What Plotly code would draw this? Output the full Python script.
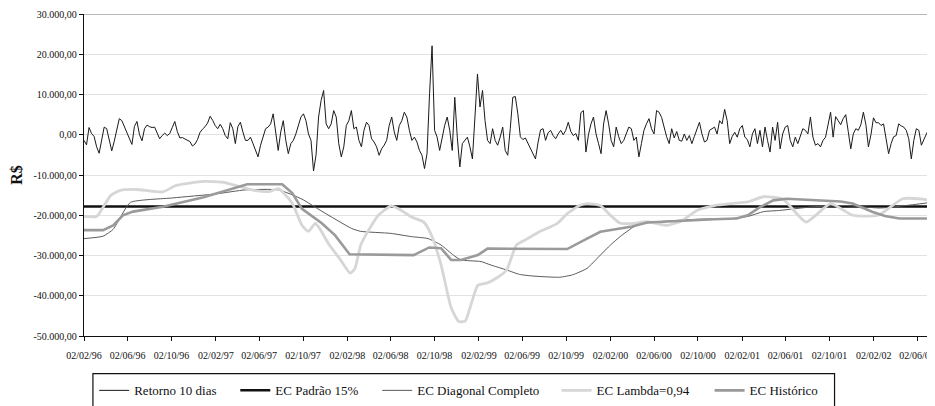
import pandas as pd
import plotly.graph_objects as go

# ---------------- data (values in thousands of R$) ----------------
start_date = "1996-02-02"
retorno_k = [
    -1.4, -2.5, 1.8, 0.3, -0.4, -3, -4.6, -1.2, 1.9, 1.5,
    -1, -4, -1.6, 1.5, 4, 3.5, 2, 0.9, -0.7, -2.4,
    2.1, 3.3, 0, -1.5, 1.5, 2.4, 2, 1.8, 1.9, 0.5,
    -1, -0.2, 0.4, -0.2, 0.3, 1.8, 3.3, 0.8, -0.8, -0.7,
    -1.1, -1.4, -1.7, -2.8, -2.3, -1.2, 0.6, 1.4, 2, 2.9,
    4.6, 3.6, 2.3, 1.5, 2.6, 1.5, -0.2, -1,
    3, 1.5, -2.2, 2, 3.1, 0.7, -1.4, -1.4, -0.6, -2.2,
    -3.9, -5.5, -2.6, -0.2, 1.5, 1.9, 2.7, 5.2, 0.7, -3.9,
    0.7, 3.5, -1.4, -4.7, -2.2, -1.4, 0.2, 2.3, 4.4, 5.2,
    3.5, 0.2, -1.4, -9, -5, 4.4, 8.5, 11, 2.7, 1.5,
    2.7, 6, 4.4, -2.2, -5.5, -3, 2.3, 3.5, 6, 1.5,
    1.9, -1.4, -3, 1.1, 3.1, 2.3,
    -1, -1.8, -3, -5.1, -3.5, -2.6, -1.4, 2.3, 4.4, 0.7,
    -1.4, 2.3, 3.5, 5.6, 4.4, 1.1, -1.4, -0.6, -1.8, -3.9,
    -5.1, -8.4, -4.7, 10.2, 22.1, 1.1, -0.6, -3.9, -0.6, 2.3,
    4.4, 1.1, -3.9, 9.3, -0.6, -8, -2.2, -1.4, -0.6, -3,
    -6, 4.4, 15.1, 6.9, 11, 3.5, -1.4, -2.2, 1.5, -1.4,
    -2.6, -0.6, 1.9, -3.9, -5.1, 1.5, 9.3,
    9.5, 5.2, -0.5, -1.2, -0.8, -2.2, -3.5, -4.7, -6, -2,
    1.2, 1.5, -1.4, 0.5, 1.1, -0.2, -1, 0.2, 1.1, 0,
    1.1, 3.1, 0.8, -0.2, 0.3, -1.4, 5.5, 6, -4.3, 0,
    2.7, 4.4, 0.2, -2.2, -4.7, 2.7, 6, 2.7, -1.4, -3,
    1.9, -0.5, -2.2, -1.4, 0.2, 1.9, 1.5, -1.4, -0.6, -5.5,
    -2.2, 1.1, 2.7, 4, 1.5, 0.2, 6,
    5.6, 4.3, 1.5, -0.5, -2.2, 1.5, -0.8, 0.8, -1.4, -1.6,
    0.2, -1.4, -0.2, -2.2, -0.4, 1.5, 3.1, 0.2, -1.8, -1.4,
    1.1, 1.5, 1.9, 0.2, 3.5, 2.7, 6.3, 3.5, -2.2, -0.4,
    0.6, -0.6, 1.5, 2.3, -0.6, -1.2, -3, 0.2, 1.5, -2.2,
    1.1, -3, 1.9, -1.4, -4.3, 1.9, -1.4, 3.1, -3.5, 0.2,
    1.9, 2.3, -1.4, -3, -0.6, -2.2, -0.4,
    1.5, 1.1, 0.2, 4.4, -0.6, -2.6, -2.2, -3, -1.4, -0.6,
    2.5, 5.6, -0.6, 4.5, 3.5, 2.5, 4, 5, 0.8, -3.5,
    0.2, 1.5, 1.1, 2.5, 5.6, 2.5, -3, 0, 4.2, 3,
    3, 2.3, 2.7, -1.2, -4.7, -2.2, -0.5, -0.2, 2.7, 2.2,
    1.9, 1.1, -1, -6, -1.4, 1.5, 1.1, -2.6, -1.4, 0.2,
    1.5, 1.1,
]

padrao_k = -17.8

diag_dates = [
    "1996-02-02", "1996-03-26", "1996-04-23", "1996-05-13", "1996-06-10",
    "1996-10-05", "1997-02-02", "1997-04-25", "1997-07-26", "1997-09-29",
    "1997-11-23", "1998-02-14", "1998-03-11", "1998-06-02", "1998-07-29",
    "1998-09-14", "1998-10-20", "1998-11-23", "1998-12-14", "1999-02-08",
    "1999-03-05", "1999-04-20", "1999-05-26", "1999-07-02", "1999-09-14",
    "1999-10-20", "1999-11-29", "2000-01-05", "2000-02-02", "2000-02-29",
    "2000-04-08", "2000-05-05", "2000-06-29", "2000-09-29", "2001-01-02",
    "2001-02-17", "2001-04-02", "2001-05-17", "2001-08-17", "2001-11-17",
    "2002-02-20", "2002-05-20", "2002-07-19",
]
diag_k = [
    -25.8, -25.2, -23.5, -20.5, -16.8,
    -15.7, -14.7, -13.7, -13.7, -16,
    -19, -23.3, -24, -24.5, -25.3,
    -25.8, -27.4, -29.9, -31.1, -31.5,
    -32.3, -33.6, -34.7, -35.1, -35.4,
    -34.8, -33.2, -29.9, -27.4, -25.3,
    -22.8, -22, -21.5, -21, -20.8,
    -20.3, -19.1, -18.8, -17.9, -17.6,
    -18.2, -17.4, -16.7,
]

hist_dates = [
    "1996-02-02", "1996-03-26", "1996-04-23", "1996-05-20", "1996-06-17",
    "1996-09-08", "1996-12-30", "1997-04-30", "1997-08-05", "1997-09-02",
    "1997-09-29", "1997-11-23", "1997-12-30", "1998-02-08", "1998-08-05",
    "1998-09-17", "1998-10-20", "1998-11-17", "1998-12-14", "1999-01-30",
    "1999-02-26", "1999-10-05", "1999-11-29", "2000-01-05", "2000-02-29",
    "2000-04-02", "2000-05-14", "2000-08-17", "2000-11-17", "2001-01-17",
    "2001-02-17", "2001-03-23", "2001-04-29", "2001-06-05", "2001-08-17",
    "2001-11-02", "2001-12-05", "2002-01-30", "2002-03-05", "2002-04-14",
    "2002-07-19",
]
hist_k = [
    -23.7, -23.7, -22.5, -20, -19.1,
    -17.9, -15.5, -12.3, -12.3, -14.5,
    -18.4, -22, -25, -29.7, -29.9,
    -28, -28.2, -31.1, -31.1, -29.9,
    -28.3, -28.4, -25.8, -24.1, -23.3,
    -22.8, -21.8, -21.3, -21, -20.8,
    -20, -18, -16.3, -15.9, -16.3,
    -16.6, -17.1, -19.2, -20.2, -20.8,
    -20.8,
]

lambda_dates = [
    "1996-02-02", "1996-03-08", "1996-03-26", "1996-04-17", "1996-05-13",
    "1996-06-26", "1996-09-08", "1996-10-14", "1996-12-30", "1997-02-23",
    "1997-03-28", "1997-05-24", "1997-07-01", "1997-07-26", "1997-09-02",
    "1997-09-29", "1997-10-17", "1997-11-05", "1997-11-17", "1997-12-14",
    "1998-01-11", "1998-02-10", "1998-02-23", "1998-03-11", "1998-04-02",
    "1998-04-29", "1998-06-03", "1998-07-02", "1998-07-29", "1998-09-02",
    "1998-09-23", "1998-10-20", "1998-11-17", "1998-12-08", "1998-12-26",
    "1999-01-11", "1999-01-30", "1999-02-26", "1999-03-23", "1999-04-20",
    "1999-05-17", "1999-06-17", "1999-07-20", "1999-09-08", "1999-10-05",
    "1999-11-08", "1999-11-29", "2000-01-05", "2000-02-02", "2000-02-29",
    "2000-04-08", "2000-05-14", "2000-07-08", "2000-08-17", "2000-09-29",
    "2000-11-17", "2001-01-02", "2001-02-17", "2001-04-02", "2001-05-26",
    "2001-07-29", "2001-10-05", "2001-12-05", "2002-02-14", "2002-04-23",
    "2002-06-17", "2002-07-19",
]
lambda_k = [
    -20.3, -20.3, -18, -15, -13.8,
    -13.6, -14.2, -12.6, -11.6, -11.8,
    -12.6, -13.9, -14.1, -13.4, -17,
    -22.5, -24, -22, -23.3, -27.4,
    -30.7, -34.4, -33.2, -27.4, -23.7,
    -20, -17.7, -18.8, -20.4, -21.7,
    -24.9, -32.3, -43, -46.4, -46.3,
    -42.2, -37.4, -36.8, -35.6, -33.6,
    -27.4, -25.8, -24.1, -22, -19.6,
    -17.6, -17.1, -17.6, -20, -22,
    -22, -21.6, -22.5, -21.4, -18.8,
    -17.6, -17.1, -16.7, -15.4, -16,
    -21.7, -17.1, -20, -20, -15.9,
    -16, -16.5,
]

y_tickvals = [30000, 20000, 10000, 0, -10000, -20000, -30000, -40000, -50000]
y_ticktext = ["30.000,00", "20.000,00", "10.000,00", "0,00", "-10.000,00",
              "-20.000,00", "-30.000,00", "-40.000,00", "-50.000,00"]
x_tickvals = ["1996-02-02", "1996-06-02", "1996-10-02", "1997-02-02", "1997-06-02",
              "1997-10-02", "1998-02-02", "1998-06-02", "1998-10-02", "1999-02-02",
              "1999-06-02", "1999-10-02", "2000-02-02", "2000-06-02", "2000-10-02",
              "2001-02-02", "2001-06-02", "2001-10-02", "2002-02-02", "2002-06-02"]
x_ticktext = ["02/02/96", "02/06/96", "02/10/96", "02/02/97", "02/06/97",
              "02/10/97", "02/02/98", "02/06/98", "02/10/98", "02/02/99",
              "02/06/99", "02/10/99", "02/02/00", "02/06/00", "02/10/00",
              "02/02/01", "02/06/01", "02/10/01", "02/02/02", "02/06/02"]

# ---------------- figure ----------------
ret_dates = pd.date_range(start_date, periods=len(retorno_k), freq="7D")
x_end = "2002-07-19"
FONT = "Liberation Serif"

fig = go.Figure()
fig.add_trace(go.Scatter(
    x=ret_dates, y=[v * 1000 for v in retorno_k], mode="lines",
    name="Retorno 10 dias", line=dict(color="#1a1a1a", width=1), legend="legend"))
fig.add_trace(go.Scatter(
    x=[start_date, x_end], y=[padrao_k * 1000] * 2, mode="lines",
    name="EC Padrão 15%", line=dict(color="#111111", width=2.5), legend="legend2"))
fig.add_trace(go.Scatter(
    x=diag_dates, y=[v * 1000 for v in diag_k], mode="lines",
    name="EC Diagonal Completo", line=dict(color="#5a5a5a", width=1, shape="spline", smoothing=0.5),
    legend="legend3"))
fig.add_trace(go.Scatter(
    x=lambda_dates, y=[v * 1000 for v in lambda_k], mode="lines",
    name="EC Lambda=0,94", line=dict(color="#d6d6d6", width=2.8, shape="spline", smoothing=0.5),
    legend="legend4"))
fig.add_trace(go.Scatter(
    x=hist_dates, y=[v * 1000 for v in hist_k], mode="lines",
    name="EC Histórico", line=dict(color="#9a9a9a", width=2.6),
    legend="legend5"))

leg_common = dict(font=dict(family=FONT, size=13, color="#111"), bgcolor="rgba(0,0,0,0)",
                  borderwidth=0, orientation="h", xanchor="left", yanchor="middle",
                  y=-0.169, itemwidth=30)

fig.update_layout(
    width=927, height=398,
    margin=dict(l=72, r=0, t=5, b=68),
    paper_bgcolor="white", plot_bgcolor="white",
    font=dict(family=FONT, size=10, color="#111"),
    showlegend=True,
    legend=dict(x=0.012, **leg_common),
    legend2=dict(x=0.178, **leg_common),
    legend3=dict(x=0.345, **leg_common),
    legend4=dict(x=0.556, **leg_common),
    legend5=dict(x=0.736, **leg_common),
    xaxis=dict(type="date", range=[start_date, x_end], tickvals=x_tickvals, ticktext=x_ticktext,
               showgrid=False, zeroline=False, showline=True, linecolor="#111", linewidth=1.3,
               ticks="outside", ticklen=4, tickcolor="#111", tickfont=dict(family=FONT, size=10),
               ticklabelstandoff=6, ticklabeloverflow="allow"),
    yaxis=dict(range=[-50000, 30000], tickvals=y_tickvals, ticktext=y_ticktext,
               showgrid=True, gridcolor="#e2e2e2", gridwidth=1, zeroline=False,
               showline=True, linecolor="#111", linewidth=1.3,
               ticks="outside", ticklen=4, tickcolor="#111", tickfont=dict(family=FONT, size=10),
               ticklabeloverflow="allow",
               title=dict(text="<b>R$</b>", font=dict(family=FONT, size=16), standoff=14)),
    shapes=[
        dict(type="line", xref="paper", yref="y", x0=0, x1=1, y0=30000, y1=30000,
             line=dict(color="#a0a0a0", width=1.5)),
        dict(type="rect", xref="paper", yref="paper", x0=0.0105, x1=0.883, y0=-0.117, y1=-0.35,
             line=dict(color="#111", width=1.2), fillcolor="rgba(0,0,0,0)"),
    ],
)

fig.write_html("out.html")
